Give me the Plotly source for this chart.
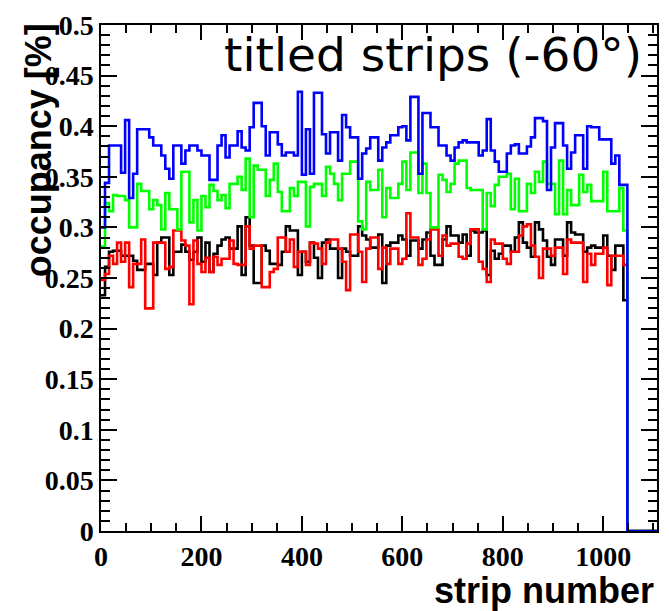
import numpy as np
import plotly.graph_objects as go

# Strip occupancy histograms, 8 strips per bin, 131 filled bins (strips 0-1048)
BIN_WIDTH = 8
X_MAX = 1107

occ_blue = [0.300,0.344,0.381,0.381,0.381,0.354,0.406,0.329,0.353,0.397,
            0.397,0.397,0.389,0.381,0.381,0.371,0.358,0.348,0.381,0.381,
            0.363,0.376,0.381,0.381,0.376,0.371,0.371,0.347,0.347,0.381,
            0.391,0.369,0.381,0.381,0.395,0.379,0.376,0.399,0.423,0.423,
            0.400,0.371,0.394,0.394,0.382,0.371,0.374,0.374,0.371,0.434,
            0.352,0.397,0.353,0.433,0.433,0.392,0.373,0.394,0.394,0.366,
            0.411,0.399,0.389,0.389,0.348,0.373,0.378,0.389,0.389,0.366,
            0.379,0.384,0.391,0.391,0.399,0.400,0.386,0.429,0.429,0.353,
            0.413,0.413,0.399,0.399,0.381,0.381,0.371,0.366,0.379,0.384,
            0.386,0.384,0.384,0.384,0.371,0.376,0.407,0.376,0.365,0.355,
            0.355,0.373,0.381,0.382,0.373,0.373,0.380,0.389,0.408,0.408,
            0.405,0.337,0.379,0.403,0.403,0.381,0.358,0.374,0.391,0.391,
            0.358,0.400,0.399,0.399,0.387,0.387,0.387,0.363,0.371,0.342,
            0.342]

occ_green = [0.281,0.324,0.316,0.332,0.331,0.331,0.327,0.300,0.300,0.343,
             0.336,0.336,0.318,0.327,0.322,0.298,0.334,0.318,0.318,0.298,
             0.355,0.355,0.305,0.327,0.297,0.331,0.320,0.342,0.336,0.327,
             0.332,0.319,0.343,0.343,0.350,0.337,0.368,0.310,0.361,0.357,
             0.357,0.331,0.347,0.363,0.335,0.316,0.316,0.339,0.331,0.345,
             0.345,0.301,0.340,0.343,0.343,0.331,0.360,0.353,0.343,0.327,
             0.353,0.353,0.365,0.365,0.306,0.298,0.345,0.337,0.337,0.357,
             0.310,0.339,0.329,0.329,0.343,0.365,0.337,0.374,0.374,0.334,
             0.363,0.334,0.300,0.300,0.352,0.347,0.335,0.343,0.363,0.366,
             0.366,0.339,0.337,0.337,0.337,0.298,0.334,0.321,0.342,0.350,
             0.350,0.353,0.318,0.348,0.316,0.316,0.343,0.334,0.355,0.345,
             0.365,0.343,0.343,0.313,0.366,0.313,0.337,0.322,0.322,0.352,
             0.335,0.342,0.326,0.326,0.326,0.355,0.316,0.316,0.316,0.339,
             0.297]

occ_black = [0.233,0.261,0.276,0.277,0.277,0.272,0.272,0.272,0.267,0.258,
             0.258,0.264,0.264,0.253,0.285,0.290,0.290,0.253,0.276,0.276,
             0.283,0.276,0.268,0.276,0.290,0.266,0.285,0.256,0.274,0.282,
             0.288,0.290,0.279,0.279,0.301,0.253,0.310,0.282,0.245,0.245,
             0.282,0.277,0.264,0.264,0.263,0.276,0.301,0.297,0.297,0.253,
             0.276,0.266,0.285,0.270,0.250,0.285,0.288,0.279,0.279,0.250,
             0.279,0.276,0.272,0.272,0.301,0.292,0.288,0.280,0.280,0.293,
             0.245,0.282,0.285,0.285,0.292,0.288,0.272,0.287,0.287,0.279,
             0.288,0.295,0.272,0.263,0.263,0.288,0.301,0.292,0.292,0.285,
             0.293,0.272,0.297,0.295,0.295,0.297,0.253,0.277,0.269,0.274,
             0.282,0.282,0.276,0.290,0.305,0.285,0.280,0.271,0.305,0.298,
             0.287,0.271,0.263,0.288,0.288,0.272,0.305,0.295,0.293,0.293,
             0.276,0.280,0.282,0.280,0.280,0.292,0.272,0.258,0.282,0.282,
             0.228]

occ_red = [0.248,0.254,0.272,0.264,0.285,0.266,0.285,0.241,0.264,0.264,
           0.288,0.220,0.220,0.285,0.285,0.285,0.259,0.261,0.297,0.297,
           0.287,0.282,0.224,0.287,0.264,0.256,0.270,0.256,0.271,0.263,
           0.269,0.269,0.287,0.264,0.263,0.263,0.301,0.279,0.282,0.282,
           0.241,0.241,0.256,0.259,0.290,0.290,0.276,0.288,0.261,0.276,
           0.276,0.263,0.285,0.284,0.279,0.264,0.285,0.288,0.288,0.279,
           0.266,0.238,0.293,0.293,0.276,0.246,0.279,0.290,0.290,0.259,
           0.280,0.264,0.279,0.279,0.264,0.269,0.314,0.290,0.290,0.263,
           0.269,0.288,0.298,0.298,0.272,0.292,0.282,0.284,0.284,0.271,
           0.269,0.284,0.298,0.298,0.266,0.259,0.246,0.288,0.284,0.284,
           0.269,0.264,0.276,0.276,0.292,0.301,0.303,0.282,0.271,0.250,
           0.279,0.279,0.272,0.280,0.280,0.254,0.288,0.285,0.285,0.285,
           0.246,0.274,0.263,0.274,0.274,0.280,0.243,0.272,0.272,0.272,
           0.263]

series = [
    ("black", occ_black, "#000000"),
    ("red", occ_red, "#ff0000"),
    ("green", occ_green, "#00ff00"),
    ("blue", occ_blue, "#0000ff"),
]


def step_xy(values):
    """Histogram outline: bin low edges, then the empty bins up to the axis end."""
    n = len(values)
    edges = np.arange(n) * BIN_WIDTH
    xs = list(edges) + [n * BIN_WIDTH, X_MAX]
    ys = list(values) + [0.0, 0.0]
    return xs, ys


fig = go.Figure()
for name, vals, color in series:
    xs, ys = step_xy(vals)
    fig.add_trace(go.Scatter(
        x=xs, y=ys, mode="lines", name=name,
        line=dict(shape="hv", color=color, width=2.6),
        showlegend=False, hoverinfo="skip",
    ))

tick_font = dict(family="Liberation Serif", size=28, color="black", weight="bold")
title_font = dict(family="Liberation Sans", size=36, color="black", weight="bold")

fig.update_xaxes(
    range=[0, X_MAX], tickmode="linear", tick0=0, dtick=200,
    ticks="inside", ticklen=15, tickwidth=1.5, tickcolor="black",
    minor=dict(ticks="inside", dtick=50, ticklen=8, tickwidth=1.5, tickcolor="black"),
    showline=True, linewidth=1.5, linecolor="black", mirror="allticks",
    showgrid=False, zeroline=False, tickfont=tick_font,
)
fig.update_yaxes(
    range=[0, 0.5], tickmode="linear", tick0=0, dtick=0.05,
    ticks="inside", ticklen=16, tickwidth=1.5, tickcolor="black",
    minor=dict(ticks="inside", dtick=0.01, ticklen=9, tickwidth=1.5, tickcolor="black"),
    showline=True, linewidth=1.5, linecolor="black", mirror="allticks",
    showgrid=False, zeroline=False, tickfont=tick_font,
)

W, H = 669, 611
L, R, T, B = 101, 10, 17, 80
pw, ph = W - L - R, H - T - B


def px_to_paper(px, py):
    return (px - L) / pw, (H - B - py) / ph


ax_title_x, ax_title_y = px_to_paper(658, 614)
ay_title_x, ay_title_y = px_to_paper(38, 13)
label_x, label_y = px_to_paper(646, 47)

fig.add_annotation(text="strip number", xref="paper", yref="paper",
                   x=ax_title_x, y=ax_title_y, xanchor="right", yanchor="bottom",
                   showarrow=False, font=title_font)
fig.add_annotation(text="occupancy [%]", xref="paper", yref="paper",
                   x=ay_title_x, y=ay_title_y, xanchor="center", yanchor="top",
                   textangle=-90, showarrow=False, font=title_font)
fig.add_annotation(text="titled strips (-60°)", xref="paper", yref="paper",
                   x=label_x, y=label_y, xanchor="right", yanchor="middle",
                   showarrow=False,
                   font=dict(family="DejaVu Sans", size=47, color="black"))

fig.update_layout(
    width=W, height=H,
    margin=dict(l=L, r=R, t=T, b=B, pad=0),
    paper_bgcolor="white", plot_bgcolor="white",
)

fig.write_html("out.html")
